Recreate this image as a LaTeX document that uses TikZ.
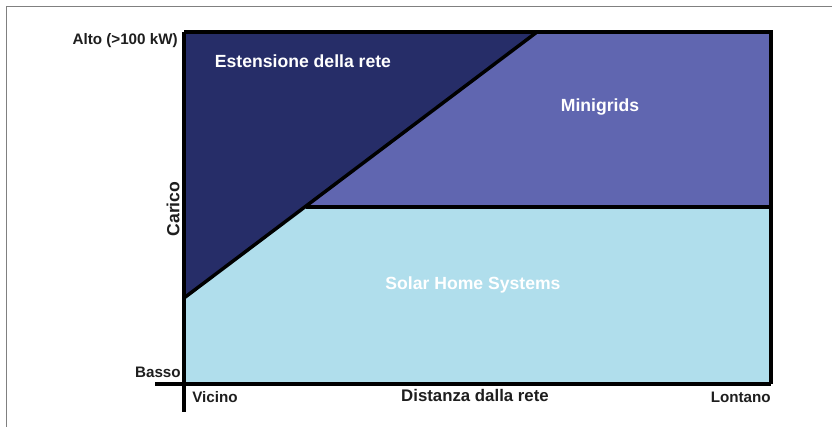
\documentclass[tikz,border=0pt]{standalone}
\usepackage{fontspec}
\setmainfont{Liberation Sans}
\definecolor{reteblu}{RGB}{38,45,104}
\definecolor{miniblu}{RGB}{96,102,176}
\definecolor{solarblu}{RGB}{176,222,236}
\definecolor{testoscuro}{RGB}{30,30,30}
\begin{document}
\begin{tikzpicture}[x=0.75pt,y=0.75pt,yscale=-1,xscale=1,
    bordo/.style={line width=2.6pt,line join=miter},
    zona/.style={inner sep=0pt,font=\bfseries\fontsize{13.2}{15}\selectfont,text=white},
    asse/.style={inner sep=0pt,font=\bfseries\fontsize{11.4}{13}\selectfont,text=testoscuro}]
        \useasboundingbox (0,0) rectangle (832,427);
        %Frame
        \draw [color={rgb, 255:red, 128; green, 128; blue, 128 }, line width=0.8pt] (6.5,427) -- (6.5,6.5) -- (832,6.5) ;
        %Shape: Estensione della rete
        \fill [reteblu] (184,32) -- (537,32) -- (184,298) -- cycle ;
        %Shape: Minigrids
        \fill [miniblu] (537,32) -- (771,32) -- (771,207) -- (306,207) -- cycle ;
        %Shape: Solar Home Systems
        \fill [solarblu] (184,298) -- (306,207) -- (771,207) -- (771,384) -- (184,384) -- cycle ;
        %Straight Lines
        \draw [bordo] (184,298) -- (537,32) ;
        \draw [bordo] (306,207) -- (771,207) ;
        \draw [bordo] (184,32) -- (771,32) -- (771,384) ;
        %Axes
        \draw [bordo] (184,32) -- (184,412) ;
        \draw [bordo] (155,384) -- (771,384) ;

        % Text Node
        \node (estensione) at (303,61) [zona] {Estensione della rete};
        % Text Node
        \node (minigrids) at (600,107) [zona] {Minigrids};
        % Text Node
        \node (solar) at (473,285) [zona] {Solar Home Systems};
        % Text Node
        \node (alto) at (178,41) [asse, anchor=east] {Alto (>100 kW)};
        % Text Node
        \node (basso) at (181,372) [asse, anchor=east] {Basso};
        % Text Node
        \node (vicino) at (192,397) [asse, anchor=west] {Vicino};
        % Text Node
        \node (lontano) at (771,397) [asse, anchor=east] {Lontano};
        % Text Node
        \node (distanza) at (475,395) [asse, font=\bfseries\fontsize{12.6}{14}\selectfont] {Distanza dalla rete};
        % Text Node
        \node (carico) at (173,209) [asse, rotate=90, font=\bfseries\fontsize{13.2}{15}\selectfont] {Carico};
    \end{tikzpicture}
\end{document}
